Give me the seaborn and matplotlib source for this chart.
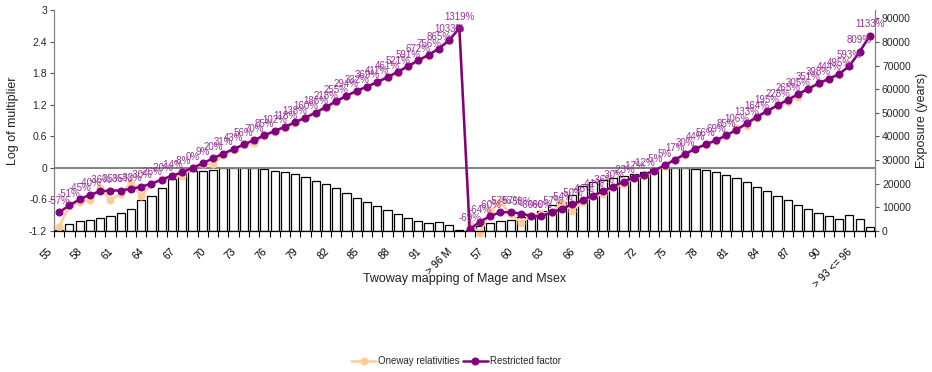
import numpy as np
import pandas as pd
import matplotlib
matplotlib.use("Agg")
import matplotlib.pyplot as plt
import matplotlib.transforms as mtransforms
import seaborn as sns

# Category labels: age bands for each sex group
ages = [str(a) for a in range(55, 93)]
categories = ages + ["> 93 <= 96", "> 96 M"] + ages + ["> 93 <= 96", "> 96 F"]

# Restricted factor, stated as % change on the multiplier
restricted_pct = [
    -57, -51, -45, -40, -36, -35, -35, -33, -30, -26,
    -20, -14, -8, 0, 9, 20, 31, 43, 56, 70,
    85, 102, 118, 138, 160, 186, 218, 255, 294, 332,
    369, 411, 461, 521, 591, 672, 756, 865, 1033, 1319,
    -69, -64, -60, -57, -57, -58, -60, -60, -57, -54,
    -50, -46, -41, -36, -30, -23, -17, -12, -5, 5,
    17, 30, 44, 56, 69, 85, 106, 133, 164, 195,
    228, 265, 305, 351, 398, 444, 495, 593, 809, 1133,
]

# Oneway relativities (log of multiplier)
oneway_log = [
    -1.12, -0.72, -0.65, -0.61, -0.39, -0.61, -0.49, -0.28, -0.54, -0.30,
    -0.22, -0.15, -0.16, 0.00, 0.08, 0.07, 0.25, 0.34, 0.43, 0.48,
    0.60, 0.69, 0.76, 0.86, 0.94, 1.04, 1.14, 1.25, 1.36, 1.45,
    1.53, 1.62, 1.71, 1.81, 1.92, 2.03, 2.13, 2.25, 2.42, 2.65,
    -1.07, -1.24, -0.83, -0.65, -0.88, -1.04, -0.91, -0.87, -0.85, -0.66,
    -0.82, -0.64, -0.54, -0.50, -0.37, -0.31, -0.19, -0.15, -0.06, 0.04,
    0.14, 0.25, 0.36, 0.43, 0.51, 0.60, 0.75, 0.80, 0.95, 1.06,
    1.17, 1.26, 1.35, 1.49, 1.59, 1.68, 1.77, 1.93, 2.20, 2.51,
]

# Exposure in years
exposure = [
    300, 3100, 4100, 4500, 5300, 6400, 7500, 9500, 13000, 15000,
    18400, 22200, 24000, 25400, 25400, 25800, 26700, 26800, 26700, 26700,
    26100, 25300, 24800, 24000, 22700, 21100, 19800, 18000, 15900, 14000,
    12100, 10400, 8700, 7100, 5700, 4400, 3300, 4000, 2700, 600,
    400, 2000, 3400, 4100, 4800, 5900, 7000, 8500, 10800, 12400,
    15300, 18900, 20600, 21700, 22300, 23200, 24000, 24900, 26300, 26700,
    26800, 26600, 26100, 25800, 24900, 23600, 22300, 20700, 18700, 16900,
    14700, 13000, 11200, 9100, 7600, 6200, 5000, 6700, 5000, 1900,
]

pos = np.arange(len(categories))
restricted_log = np.log1p(np.array(restricted_pct) / 100.0)
df = pd.DataFrame({"pos": pos, "exposure": exposure,
                   "oneway": oneway_log, "restricted": restricted_log})

sns.set_theme(style="white")
plt.rcParams["font.family"] = ["Liberation Sans", "DejaVu Sans"]

ORANGE = "#FFCC99"
PURPLE = "#800080"
LABEL_PURPLE = "#993399"
TICK_FS = 7.5
TITLE_FS = 9

fig = plt.figure(figsize=(9.32, 3.72), dpi=100)
ax = fig.add_axes([54 / 932, 1 - 231 / 372, 821 / 932, 221 / 372])
ax2 = ax.twinx()

# Exposure bars on the secondary axis
sns.barplot(data=df, x="pos", y="exposure", ax=ax2, color="white",
            edgecolor="black", linewidth=0.9, width=0.8, saturation=1,
            errorbar=None, zorder=1)
ax2.set_ylim(0, 93500)
ax2.set_yticks(np.arange(0, 90001, 10000))
ax2.set_yticklabels([str(v) for v in range(0, 90001, 10000)])
ax2.set_ylabel("Exposure (years)", fontsize=TITLE_FS, color="#222222")
ax2.yaxis.set_label_coords(1.050, 0.5)

# Lines on the primary axis, drawn above the bars
ax.set_zorder(ax2.get_zorder() + 1)
ax.patch.set_visible(False)
ax.axhline(0, color="#808080", lw=1.4, zorder=1)

sns.lineplot(data=df, x="pos", y="oneway", ax=ax, color=ORANGE, lw=1.8,
             marker="o", markersize=5, markeredgecolor=ORANGE,
             sort=False, label="Oneway relativities", clip_on=False, zorder=2)
sns.lineplot(data=df, x="pos", y="restricted", ax=ax, color=PURPLE, lw=1.8,
             marker="o", markersize=5, markeredgecolor=PURPLE,
             sort=False, label="Restricted factor", zorder=3)

for x, v, p in zip(pos, restricted_log, restricted_pct):
    ax.annotate(f"{p}%", (x, v), xytext=(0, 4.5), textcoords="offset points",
                ha="center", va="bottom", fontsize=7, color=LABEL_PURPLE,
                zorder=4)

ax.set_xlim(-0.5, len(categories) - 0.5)
ax.set_ylim(-1.2, 3)
ticks = np.arange(-1.2, 3.01, 0.6)
ax.set_yticks(ticks)
ax.set_yticklabels(["-1.2", "-0.6", "0", "0.6", "1.2", "1.8", "2.4", "3"])
ax.set_ylabel("Log of multiplier", fontsize=TITLE_FS, color="#222222")
ax.yaxis.set_label_coords(-0.043, 0.5)

# Category ticks at the boundaries, labels every third category
ax.set_xticks(pos[::3])
ax.set_xticklabels([])
ax.set_xticks(np.arange(-0.5, len(categories)), minor=True)
ax.tick_params(axis="x", which="major", length=0)
ax.tick_params(axis="x", which="minor", length=4, width=0.8,
               color="black", direction="out", bottom=True)
ax.tick_params(axis="y", length=3, width=0.8, color="#555555",
               direction="out", left=True, labelsize=TICK_FS, pad=2)
ax2.tick_params(axis="y", length=3, width=0.8, color="#555555",
                direction="out", right=True, labelsize=TICK_FS, pad=2)
ax.set_xlabel("")
ax2.set_xlabel("")

lab_trans = (mtransforms.blended_transform_factory(ax.transData, ax.transAxes)
             + mtransforms.ScaledTranslation(-0.09, -0.19, fig.dpi_scale_trans))
for x in pos[::3]:
    ax.text(x, 0, categories[x], transform=lab_trans, rotation=45,
            ha="right", va="center", rotation_mode="anchor", fontsize=TICK_FS,
            color="black")

ax.text(0.5006, -0.19, "Twoway mapping of Mage and Msex", transform=ax.transAxes,
        ha="center", va="top", fontsize=TITLE_FS, color="#222222")

for a in (ax, ax2):
    a.spines["top"].set_visible(False)
ax.spines["right"].set_visible(False)
ax2.spines["left"].set_visible(False)
ax2.spines["bottom"].set_visible(False)
ax.spines["left"].set_color("#808080")
ax2.spines["right"].set_color("#808080")
ax.spines["bottom"].set_color("black")
for s in ("left", "bottom"):
    ax.spines[s].set_linewidth(0.9)
ax2.spines["right"].set_linewidth(0.9)

handles, labels = ax.get_legend_handles_labels()
if ax.get_legend() is not None:
    ax.get_legend().remove()
if ax2.get_legend() is not None:
    ax2.get_legend().remove()
fig.legend(handles, labels, loc="center", bbox_to_anchor=(456 / 932, 1 - 361 / 372),
           ncol=2, frameon=False, fontsize=7, handlelength=2.6,
           handletextpad=0.2, columnspacing=0.3)

fig.savefig("out.png", dpi=100)
